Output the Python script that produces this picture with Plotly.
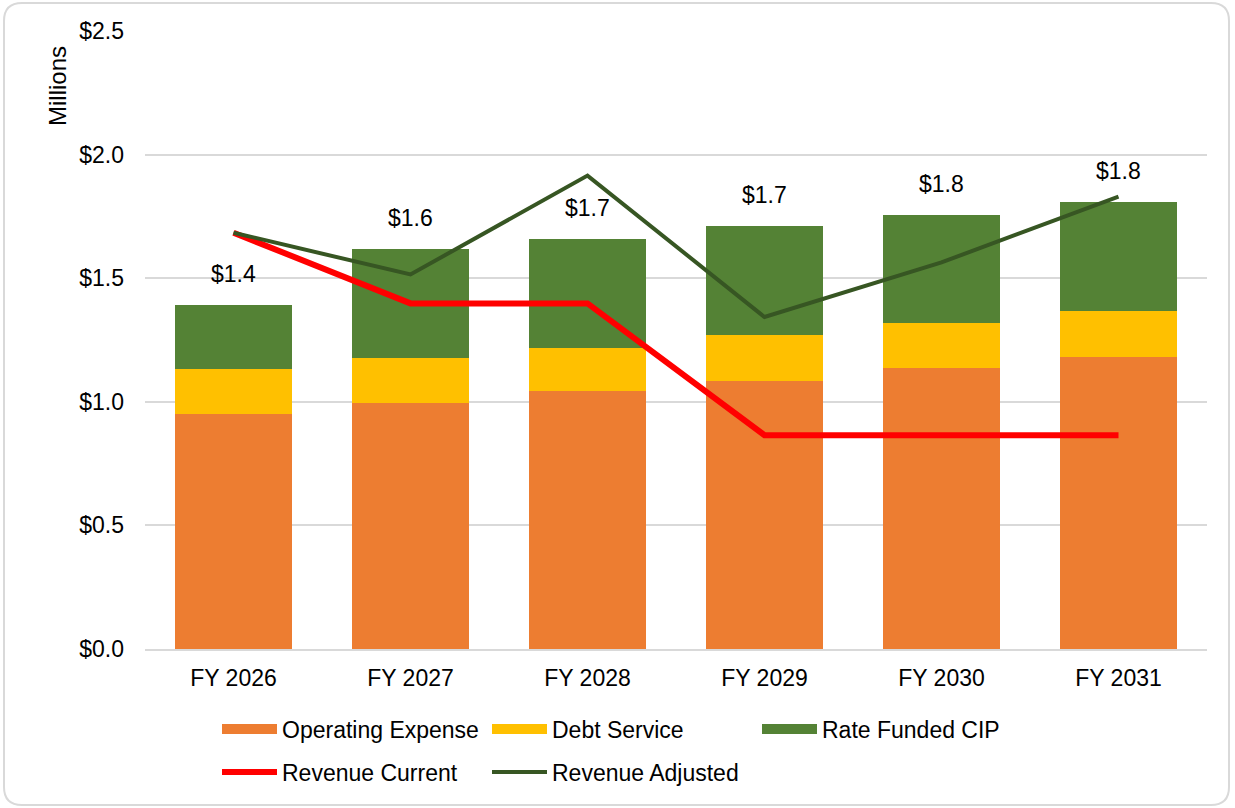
import plotly.graph_objects as go

categories = ["FY 2026", "FY 2027", "FY 2028", "FY 2029", "FY 2030", "FY 2031"]
operating_expense = [0.949, 0.996, 1.042, 1.084, 1.136, 1.183]
debt_service = [0.182, 0.181, 0.177, 0.187, 0.182, 0.185]
rate_funded_cip = [0.259, 0.442, 0.441, 0.440, 0.439, 0.442]
revenue_current = [1.684, 1.398, 1.398, 0.865, 0.865, 0.865]
revenue_adjusted = [1.684, 1.515, 1.915, 1.343, 1.564, 1.830]
total_labels = ["$1.4", "$1.6", "$1.7", "$1.7", "$1.8", "$1.8"]

bar_names = ["Operating Expense", "Debt Service", "Rate Funded CIP"]
bar_colors = ["#ED7D31", "#FFC000", "#548235"]

W, H = 1235, 808
L, R, T, B = 145, 28, 31, 159
PW, PH = W - L - R, H - T - B

def px(x):
    return (x - L) / PW

def py(y):
    return (H - B - y) / PH

FONT = "Liberation Sans, Arial, sans-serif"
FS = 23

fig = go.Figure()
for name, vals, col in zip(bar_names, [operating_expense, debt_service, rate_funded_cip], bar_colors):
    fig.add_bar(x=categories, y=vals, name=name, showlegend=False,
                marker=dict(color=col, line=dict(width=0)))
# legend proxies drawn as wide swatches like the original
for name, col in zip(bar_names, bar_colors):
    fig.add_scatter(x=[None], y=[None], name=name, mode="lines",
                    line=dict(color=col, width=12), legend="legend")
fig.add_scatter(x=categories, y=revenue_current, name="Revenue Current", mode="lines",
                line=dict(color="#FF0000", width=6), legend="legend2")
fig.add_scatter(x=categories, y=revenue_adjusted, name="Revenue Adjusted", mode="lines",
                line=dict(color="#375623", width=4), legend="legend2")

totals = [a + b + c for a, b, c in zip(operating_expense, debt_service, rate_funded_cip)]
for cat, tot, lab in zip(categories, totals, total_labels):
    fig.add_annotation(x=cat, y=tot, text=lab, showarrow=False, yanchor="middle",
                       yshift=31, font=dict(size=FS, color="#000000", family=FONT))

fig.add_annotation(xref="paper", yref="paper", x=px(57), y=py(86), text="Millions",
                   textangle=-90, showarrow=False, xanchor="center", yanchor="middle",
                   font=dict(size=24, color="#000000", family=FONT))

# rounded outer border
x0, x1, y0, y1, r = 4, 1229, 3, 805, 18
path = (f"M {px(x0 + r)},{py(y0)} L {px(x1 - r)},{py(y0)} "
        f"Q {px(x1)},{py(y0)} {px(x1)},{py(y0 + r)} "
        f"L {px(x1)},{py(y1 - r)} Q {px(x1)},{py(y1)} {px(x1 - r)},{py(y1)} "
        f"L {px(x0 + r)},{py(y1)} Q {px(x0)},{py(y1)} {px(x0)},{py(y1 - r)} "
        f"L {px(x0)},{py(y0 + r)} Q {px(x0)},{py(y0)} {px(x0 + r)},{py(y0)} Z")
fig.add_shape(type="path", xref="paper", yref="paper", path=path,
              line=dict(color="#D9D9D9", width=2), layer="below")

leg_common = dict(orientation="h", xanchor="left", yanchor="middle",
                  entrywidth=200, traceorder="normal", font=dict(size=FS, family=FONT),
                  itemwidth=55, bgcolor="rgba(0,0,0,0)")

fig.update_layout(
    width=W, height=H,
    margin=dict(l=L, r=R, t=T, b=B),
    paper_bgcolor="white", plot_bgcolor="white",
    barmode="stack", bargap=0.34,
    font=dict(family=FONT, size=FS, color="#000000"),
    showlegend=True,
    legend=dict(x=px(217), y=py(729), **leg_common),
    legend2=dict(x=px(217), y=py(772), **leg_common),
    xaxis=dict(showgrid=False, showline=True, linecolor="#D9D9D9", linewidth=1.5,
               ticks="", tickfont=dict(size=FS, family=FONT), ticklabelstandoff=8),
    yaxis=dict(range=[0, 2.5], dtick=0.5, tickformat=".1f", tickprefix="$",
               showgrid=True, gridcolor="#D9D9D9", gridwidth=1.5, zeroline=False,
               ticks="", tickfont=dict(size=FS, family=FONT), ticklabelstandoff=20),
)

fig.write_html("out.html", config={"displayModeBar": False},
               post_script="document.body.style.margin='0';document.body.style.overflow='hidden';")
